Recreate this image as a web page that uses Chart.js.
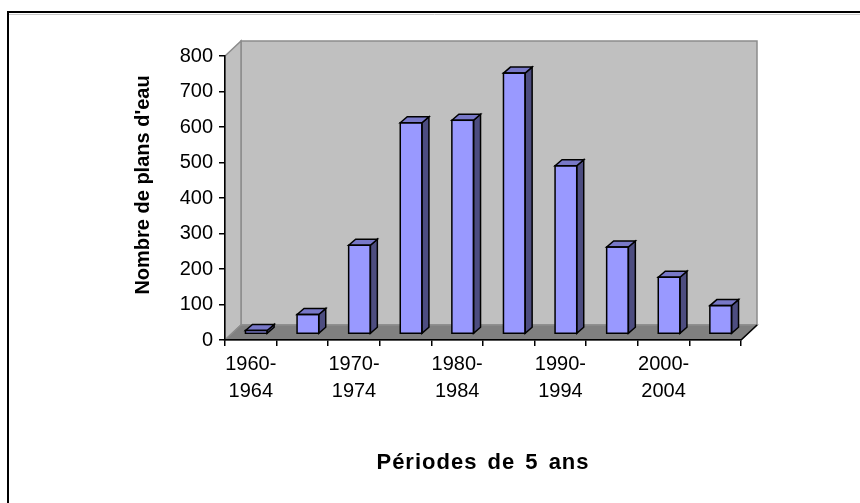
<!DOCTYPE html>
<html>
<head>
<meta charset="utf-8">
<script src="https://cdn.jsdelivr.net/npm/chart.js@4/dist/chart.umd.min.js"></script>
<style>
html,body{margin:0;padding:0;background:#fff;}
#wrap{width:860px;height:503px;}
</style>
</head>
<body>
<div id="wrap"><canvas id="c" width="860" height="503"></canvas></div>
<script>
const categories = ["1960-1964","1965-1969","1970-1974","1975-1979","1980-1984","1985-1989","1990-1994","1995-1999","2000-2004","2005-2009"];
const plansDeau = [10, 55, 250, 595, 602, 735, 474, 245, 160, 80];
const yTicks = [0,100,200,300,400,500,600,700,800];
const yTitle = "Nombre de plans d'eau";
const xTitle = "Périodes de 5 ans";

const DEPTH_X = 16, DEPTH_Y = 15;     // wall depth
const BAR_DX = 5.5, BAR_DY = 6;       // bar placement inside depth
const FACE_DX = 7, FACE_DY = 6;       // bar thickness
const FONT = "'Liberation Sans', Arial, sans-serif";

const bg3d = {
  id: 'bg3d',
  beforeDraw(chart) {
    const ctx = chart.ctx, a = chart.chartArea;
    ctx.save();
    ctx.fillStyle = '#fff';
    ctx.fillRect(0, 0, chart.width, chart.height);
    ctx.strokeStyle = '#c8c8c8'; ctx.lineWidth = 1;
    ctx.beginPath(); ctx.moveTo(9, 14.5); ctx.lineTo(860, 14.5); ctx.stroke();
    ctx.strokeStyle = '#000'; ctx.lineWidth = 2;
    ctx.beginPath(); ctx.moveTo(8, 503); ctx.lineTo(8, 12); ctx.lineTo(860, 12); ctx.stroke();
    const L = a.left, R = a.right, T = a.top, B = a.bottom;
    ctx.fillStyle = '#c0c0c0';
    ctx.fillRect(L + DEPTH_X, T - DEPTH_Y, R - L, B - T);
    ctx.strokeStyle = '#8c8c8c'; ctx.lineWidth = 1.5;
    ctx.strokeRect(L + DEPTH_X, T - DEPTH_Y, R - L, B - T);
    ctx.beginPath();
    ctx.moveTo(L, T); ctx.lineTo(L + DEPTH_X, T - DEPTH_Y);
    ctx.lineTo(L + DEPTH_X, B - DEPTH_Y); ctx.lineTo(L, B); ctx.closePath();
    ctx.fillStyle = '#c0c0c0'; ctx.fill();
    ctx.strokeStyle = '#8c8c8c'; ctx.stroke();
    ctx.beginPath();
    ctx.moveTo(L, B); ctx.lineTo(L + DEPTH_X, B - DEPTH_Y);
    ctx.lineTo(R + DEPTH_X, B - DEPTH_Y); ctx.lineTo(R, B); ctx.closePath();
    ctx.fillStyle = '#808080'; ctx.fill();
    ctx.strokeStyle = '#8c8c8c'; ctx.stroke();
    ctx.strokeStyle = '#000'; ctx.lineWidth = 1.5;
    ctx.beginPath(); ctx.moveTo(R, B); ctx.lineTo(R + DEPTH_X, B - DEPTH_Y); ctx.stroke();
    ctx.restore();
  },
  beforeDatasetsDraw(chart) {
    chart.ctx.save();
    chart.ctx.translate(BAR_DX, -BAR_DY);
  },
  afterDatasetsDraw(chart) {
    const ctx = chart.ctx;
    const meta = chart.getDatasetMeta(0);
    ctx.lineWidth = 1.5;
    ctx.strokeStyle = '#000';
    ctx.lineJoin = 'miter';
    meta.data.forEach(bar => {
      const p = bar.getProps(['x','y','base','width'], true);
      const l = p.x - p.width/2, r = p.x + p.width/2, t = p.y, b = p.base;
      ctx.beginPath();
      ctx.moveTo(r, t); ctx.lineTo(r + FACE_DX, t - FACE_DY);
      ctx.lineTo(r + FACE_DX, b - FACE_DY); ctx.lineTo(r, b); ctx.closePath();
      ctx.fillStyle = '#4d4d80'; ctx.fill(); ctx.stroke();
      ctx.beginPath();
      ctx.moveTo(l, t); ctx.lineTo(l + FACE_DX, t - FACE_DY);
      ctx.lineTo(r + FACE_DX, t - FACE_DY); ctx.lineTo(r, t); ctx.closePath();
      ctx.fillStyle = '#7878c8'; ctx.fill(); ctx.stroke();
      ctx.strokeRect(l, t, r - l, b - t);
    });
    ctx.restore();
  },
  afterDraw(chart) {
    const ctx = chart.ctx, a = chart.chartArea;
    ctx.save();
    ctx.fillStyle = '#000';
    ctx.textAlign = 'center';
    ctx.textBaseline = 'middle';
    // vertical axis title
    ctx.save();
    ctx.translate(143, 185);
    ctx.rotate(-Math.PI / 2);
    ctx.font = "bold 20px " + FONT;
    ctx.fillText(yTitle, 0, 0);
    ctx.restore();
    // horizontal axis title (Excel-like wide spacing)
    ctx.font = "bold 22px " + FONT;
    if ('letterSpacing' in ctx) ctx.letterSpacing = '1px';
    if ('wordSpacing' in ctx) ctx.wordSpacing = '3px';
    ctx.fillText(xTitle, (a.left + a.right) / 2, 463);
    ctx.restore();
  }
};

new Chart(document.getElementById('c'), {
  type: 'bar',
  data: {
    labels: categories,
    datasets: [{
      data: plansDeau,
      backgroundColor: '#9999ff',
      borderColor: '#000',
      borderWidth: 0,
      barPercentage: 0.42,
      categoryPercentage: 1.0,
      clip: false
    }]
  },
  options: {
    responsive: false,
    animation: false,
    events: [],
    layout: { padding: { left: 0, top: 56, right: 119, bottom: 0 } },
    plugins: { legend: { display: false }, tooltip: { enabled: false } },
    scales: {
      x: {
        grid: { display: true, drawOnChartArea: false, drawTicks: true, tickLength: 6, color: '#000', lineWidth: 1.5, offset: true },
        border: { display: true, color: '#000', width: 1.5 },
        ticks: {
          autoSkip: false, maxRotation: 0, minRotation: 0, padding: 5,
          color: '#000',
          font: { family: FONT, size: 20, lineHeight: 1.35 },
          callback: function(v, i) {
            if (i % 2 !== 0) return '';
            const s = categories[i];
            const k = s.indexOf('-');
            return [s.slice(0, k + 1), s.slice(k + 1)];
          }
        },
        title: { display: false },
        afterFit(s) { s.height = 163; }
      },
      y: {
        min: 0, max: 800,
        afterBuildTicks(s) { s.ticks = yTicks.map(v => ({ value: v })); },
        grid: { display: true, drawOnChartArea: false, drawTicks: true, tickLength: 6, color: '#000', lineWidth: 1.5 },
        border: { display: true, color: '#000', width: 1.5 },
        ticks: { color: '#000', padding: 6, font: { family: FONT, size: 20 } },
        title: { display: false },
        afterFit(s) { s.width = 225; }
      }
    }
  },
  plugins: [bg3d]
});
</script>
</body>
</html>
